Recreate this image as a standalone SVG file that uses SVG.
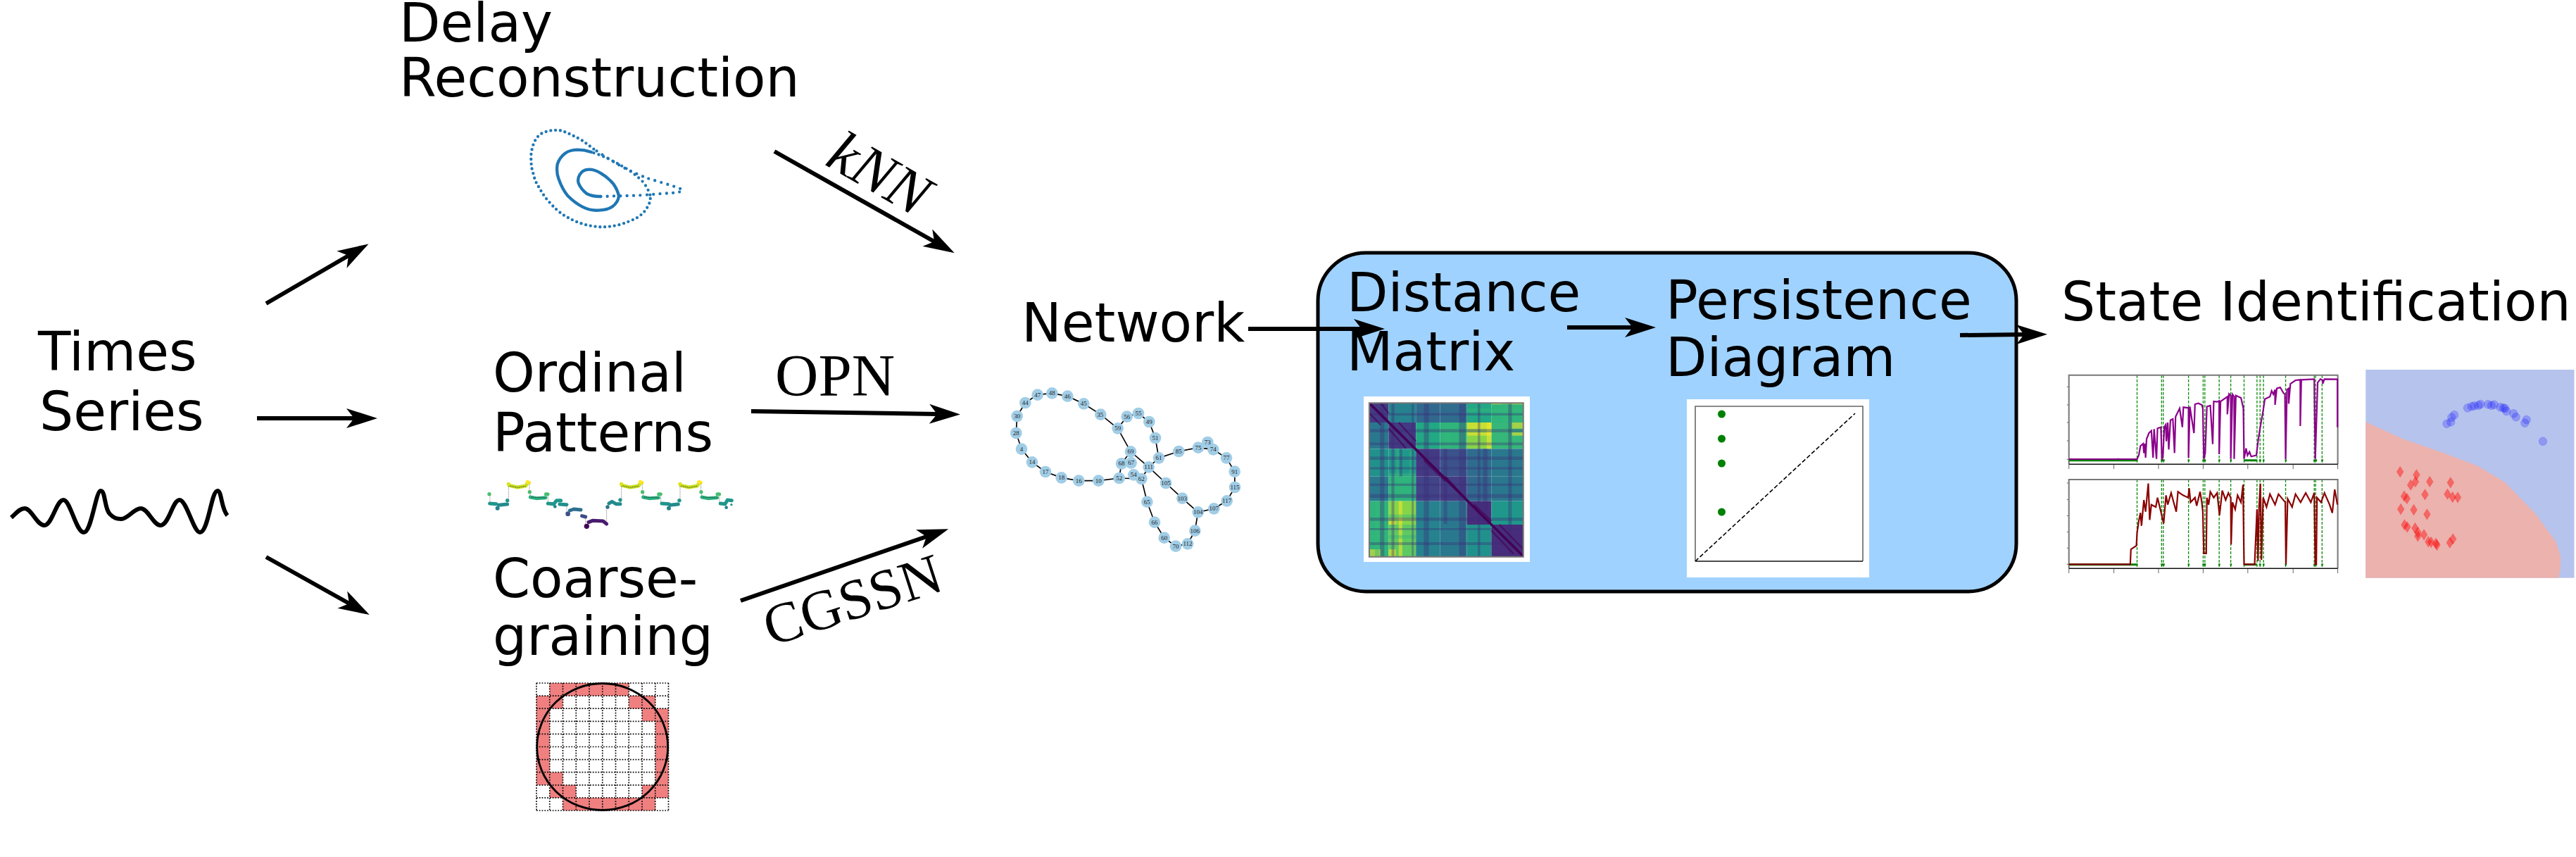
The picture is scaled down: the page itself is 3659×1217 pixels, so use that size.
<svg xmlns="http://www.w3.org/2000/svg" xmlns:xlink="http://www.w3.org/1999/xlink" width="3659" height="1217" viewBox="0 0 3659 1217">
<style>
.t{font-family:"DejaVu Sans",sans-serif;font-size:76px;fill:#000}
.m{font-family:"Liberation Serif",serif;font-size:85px;fill:#000}
.arrow{fill:none;stroke:#000;stroke-width:6;marker-end:url(#head)}
.ns{vector-effect:non-scaling-stroke}
.nl{font-family:"Liberation Serif",serif;font-size:27px;fill:#222;text-anchor:middle}
.nc{fill:#a1cde6}
.ne{stroke:#000;stroke-width:5;fill:none}
.op{fill:none;stroke-width:15;stroke-linecap:round;stroke-linejoin:round}
.at{fill:none;stroke:#1f77b4;stroke-width:13;stroke-linecap:round}
.vd{stroke:#0a8a0a;stroke-width:1.3;stroke-dasharray:4 2;fill:none;vector-effect:non-scaling-stroke}
.tk{stroke:#666;stroke-width:1;fill:none;vector-effect:non-scaling-stroke}
.ax{stroke:#111;stroke-width:1.5;fill:none;vector-effect:non-scaling-stroke}
.axg{stroke:#777;stroke-width:2;fill:none;vector-effect:non-scaling-stroke}
.gb{stroke:#008000;stroke-width:3;fill:none;vector-effect:non-scaling-stroke}
.bc{fill:#0000ff;fill-opacity:.22;stroke:#0000ff;stroke-opacity:.12;vector-effect:non-scaling-stroke}
.rd{fill:#ff0000;fill-opacity:.42;stroke:#ff0000;stroke-opacity:.2;vector-effect:non-scaling-stroke}
</style>
<defs>
<marker id="head" markerUnits="userSpaceOnUse" markerWidth="60" markerHeight="50" viewBox="-14 -25 60 50" refX="0" refY="0" orient="auto"><path d="M33,0 L-11,-14 L0,0 L-11,14 Z" fill="#000"/></marker>
<clipPath id="hm"><rect x="88" y="97" width="429" height="653"/></clipPath>
<g id="motif">
<path class="op" stroke="#c8e020" d="M130,88 L165,96 L200,90 L207,80"/>
<circle cx="127" cy="82" r="8" fill="#dde318"/><path class="op" stroke="#fde725" d="M207,73 L215,76"/>
<circle cx="217" cy="116" r="8" fill="#4ac16d"/>
<path class="op" stroke="#2ab07f" d="M220,138 L245,143 L285,140"/><path class="op" stroke="#45bf70" d="M286,125 L294,125"/>
<path d="M127,90 V150 M216,80 V112 M219,120 V134 M295,128 V160" stroke="#777" stroke-width="2.5" stroke-dasharray="4 3" fill="none"/>
<path d="M132,90 L165,97 L200,91 M224,138 L285,141" stroke="#333" stroke-width="2.5" stroke-dasharray="5 3" fill="none"/>
</g>
</defs>
<rect width="3659" height="1217" fill="#fff"/>

<g id="pipeline-box">
<rect x="1872" y="359" width="992" height="481" rx="68" ry="68" fill="#a0d2ff" stroke="#000" stroke-width="5"/>
</g>

<g id="times-series">
<text class="t" x="54" y="526">Times</text>
<text class="t" x="56" y="611">Series</text>
<path d="M16,735 C24,728 28,722 35,722 C45,722 52,746 63,746 C74,746 80,710 90,710 C100,710 108,756 119,756 C130,756 136,697 143,697 C150,697 148,722 156,730 C162,736 166,737 172,737 C182,737 190,722 200,722 C210,722 218,746 228,746 C240,746 245,710 255,710 C265,710 275,756 284,756 C296,756 300,697 309,697 C315,697 314,722 323,732" fill="none" stroke="#000" stroke-width="6"/>
</g>

<g id="delay-reconstruction">
<text class="t" x="567" y="59">Delay</text>
<text class="t" x="567" y="137">Reconstruction</text>
<g transform="translate(740 170) scale(.33333)">
<path class="at" stroke-dasharray="0 28" d="M340,327 L510,322 Q585,316 640,312 Q688,310 688,298 Q660,285 600,268 Q560,255 540,250 Q490,230 430,200 Q370,165 310,125"/>
<path class="at" stroke-dasharray="0 20.5" d="M310,125 Q285,105 260,88 Q215,62 175,47 Q130,38 85,60 Q50,85 43,150 Q42,200 50,220 Q60,265 75,285 Q100,330 120,350 Q150,385 180,405 Q220,430 260,443 Q300,455 340,457 Q380,457 420,447 Q460,435 490,420 Q525,400 540,370 Q555,345 550,320"/>
<path class="at" stroke-dasharray="0 22" d="M550,320 Q540,290 520,265 Q490,235 460,215 Q420,190 380,170 Q340,150 300,138"/>
<path class="at" d="M300,138 Q270,128 240,128 Q205,130 190,142 Q165,160 155,190 Q150,225 160,250 Q175,295 200,325 Q230,355 260,370 Q295,388 330,386 Q370,385 390,370 Q415,350 417,325 Q412,300 395,275 Q370,245 340,228 Q315,212 290,212 Q262,212 250,235 Q240,250 245,270 Q255,295 280,315 Q305,328 340,327"/>
</g>
</g>

<g id="ordinal-patterns">
<text class="t" x="700" y="556">Ordinal</text>
<text class="t" x="700" y="641">Patterns</text>
<g transform="translate(680 660) scale(.3333)">
<circle cx="45" cy="125" r="8" fill="#4ac16d"/>
<path class="op" stroke="#1f968b" d="M47,165 L75,167"/>
<path class="op" stroke="#238a8d" d="M85,172 L122,168"/><circle cx="80" cy="185" r="9" fill="#26828e"/>
<circle cx="122" cy="152" r="8" fill="#1f968b"/>
<path d="M48,130 V160" stroke="#777" stroke-width="2.5" stroke-dasharray="4 3"/>
<use xlink:href="#motif" href="#motif"/>
<path class="op" stroke="#1f968b" d="M295,165 L320,167 L332,152 L350,152"/><circle cx="325" cy="178" r="7" fill="#26828e"/>
<path class="op" stroke="#1f8f8c" d="M345,168 L375,170"/>
<circle cx="380" cy="209" r="10" fill="#3f4f8a"/>
<path class="op" stroke="#2c6f8e" d="M388,195 L405,189 L435,192"/>
<path class="op" stroke="#3e4a89" d="M440,218 L455,222"/>
<circle cx="460" cy="262" r="11" fill="#440154"/>
<path class="op" stroke="#481c6e" d="M468,245 L485,238 L530,240 L545,252"/>
<circle cx="549" cy="180" r="8" fill="#2c728e"/>
<path class="op" stroke="#238a8d" d="M555,165 L568,157 L585,167 L603,167"/>
<circle cx="603" cy="150" r="8" fill="#1f968b"/>
<path d="M545,185 V240 M455,226 V255 M375,172 V200" stroke="#777" stroke-width="2.5" stroke-dasharray="4 3" fill="none"/>
<use xlink:href="#motif" href="#motif" x="481"/>
<path class="op" stroke="#1f968b" d="M780,165 L810,167"/><path class="op" stroke="#238a8d" d="M815,172 L850,168"/><circle cx="810" cy="185" r="9" fill="#26828e"/><circle cx="855" cy="152" r="8" fill="#1f968b"/>
<use xlink:href="#motif" href="#motif" x="731"/>
<path class="op" stroke="#1f968b" d="M1030,165 L1050,167 L1060,150 L1078,152"/><circle cx="1055" cy="182" r="7" fill="#26828e"/><circle cx="1077" cy="170" r="5" fill="#1f968b"/>
</g>
</g>

<g id="coarse-graining">
<text class="t" x="700" y="848">Coarse-</text>
<text class="t" x="700" y="930">graining</text>
<g transform="translate(762 970)">
<path fill="#f08080" d="M18.7,0H131.3V18.1H168.8V36.2H187.5V162.9H168.8V181H37.5V162.9H18.8V144.8H0V18.1H18.7Z"/>
<path fill="#fff" d="M37.5,18.1H131.3V36.2H150V54.3H168.8V144.8H150V162.9H56.3V144.8H37.5V126.7H18.8V36.2H37.5Z"/>
<path d="M0,0H187.5M0,18.1H187.5M0,36.2H187.5M0,54.3H187.5M0,72.4H187.5M0,90.5H187.5M0,108.6H187.5M0,126.7H187.5M0,144.8H187.5M0,162.9H187.5M0,181H187.5M0,0V181M18.75,0V181M37.5,0V181M56.25,0V181M75,0V181M93.75,0V181M112.5,0V181M131.25,0V181M150,0V181M168.75,0V181M187.5,0V181" fill="none" stroke="#000" stroke-width="1.7" stroke-dasharray="1.7 2.1"/>
<ellipse cx="93.7" cy="90.5" rx="93" ry="90" fill="none" stroke="#000" stroke-width="2.8"/>
</g>
</g>

<g id="network">
<text class="t" x="1451" y="485">Network</text>
<g transform="translate(1400 520) scale(.33333)">
<path class="ne" d="M169,156L221,122L283,115L349,128L418,160L490,206L563,265L602,215L651,201L697,237L723,306L738,391L823,363L906,347L970,355L1026,391L1061,449L1062,516L1028,574L973,607L905,622L892,701L861,757L810,767L761,731L720,665L688,578L664,480L695,430L738,391M664,480L569,477L481,488L397,488L323,475L255,450L198,409L153,353L130,285L134,213L169,156M563,265L618,364L695,430L768,498L838,563L905,622M618,364L579,415L569,477"/>
<g id="net-nodes">
<circle class="nc" cx="221" cy="122" r="25"/><circle class="nc" cx="283" cy="115" r="25"/><circle class="nc" cx="349" cy="128" r="25"/><circle class="nc" cx="418" cy="160" r="25"/><circle class="nc" cx="490" cy="206" r="25"/><circle class="nc" cx="563" cy="265" r="25"/><circle class="nc" cx="602" cy="215" r="25"/><circle class="nc" cx="651" cy="201" r="25"/><circle class="nc" cx="697" cy="237" r="25"/><circle class="nc" cx="723" cy="306" r="25"/><circle class="nc" cx="738" cy="391" r="25"/><circle class="nc" cx="823" cy="363" r="25"/><circle class="nc" cx="906" cy="347" r="25"/><circle class="nc" cx="946" cy="324" r="25"/><circle class="nc" cx="970" cy="355" r="25"/><circle class="nc" cx="1026" cy="391" r="25"/><circle class="nc" cx="1061" cy="449" r="25"/><circle class="nc" cx="1062" cy="516" r="25"/><circle class="nc" cx="1028" cy="574" r="25"/><circle class="nc" cx="973" cy="607" r="25"/><circle class="nc" cx="905" cy="622" r="25"/><circle class="nc" cx="892" cy="701" r="25"/><circle class="nc" cx="861" cy="757" r="25"/><circle class="nc" cx="810" cy="767" r="25"/><circle class="nc" cx="761" cy="731" r="25"/><circle class="nc" cx="720" cy="665" r="25"/><circle class="nc" cx="688" cy="578" r="25"/><circle class="nc" cx="664" cy="480" r="25"/><circle class="nc" cx="631" cy="463" r="25"/><circle class="nc" cx="569" cy="477" r="25"/><circle class="nc" cx="481" cy="488" r="25"/><circle class="nc" cx="397" cy="488" r="25"/><circle class="nc" cx="323" cy="475" r="25"/><circle class="nc" cx="255" cy="450" r="25"/><circle class="nc" cx="198" cy="409" r="25"/><circle class="nc" cx="153" cy="353" r="25"/><circle class="nc" cx="130" cy="285" r="25"/><circle class="nc" cx="134" cy="213" r="25"/><circle class="nc" cx="169" cy="156" r="25"/><circle class="nc" cx="618" cy="364" r="25"/><circle class="nc" cx="620" cy="412" r="25"/><circle class="nc" cx="579" cy="415" r="25"/><circle class="nc" cx="695" cy="430" r="25"/><circle class="nc" cx="768" cy="498" r="25"/><circle class="nc" cx="838" cy="563" r="25"/>
</g>
<g id="net-labels">
<text class="nl" x="221" y="131">47</text><text class="nl" x="283" y="124">48</text><text class="nl" x="349" y="137">46</text><text class="nl" x="418" y="169">45</text><text class="nl" x="488" y="215">35</text><text class="nl" x="563" y="274">59</text><text class="nl" x="602" y="224">56</text><text class="nl" x="651" y="210">55</text><text class="nl" x="697" y="246">49</text><text class="nl" x="723" y="315">51</text><text class="nl" x="738" y="400">61</text><text class="nl" x="823" y="372">85</text><text class="nl" x="906" y="356">75</text><text class="nl" x="946" y="333">73</text><text class="nl" x="970" y="364">74</text><text class="nl" x="1026" y="400">77</text><text class="nl" x="1061" y="458">91</text><text class="nl" x="1062" y="525">115</text><text class="nl" x="1028" y="583">117</text><text class="nl" x="973" y="616">107</text><text class="nl" x="905" y="631">104</text><text class="nl" x="892" y="710">106</text><text class="nl" x="861" y="766">112</text><text class="nl" x="810" y="776">70</text><text class="nl" x="761" y="740">60</text><text class="nl" x="720" y="674">66</text><text class="nl" x="688" y="587">65</text><text class="nl" x="664" y="489">62</text><text class="nl" x="631" y="472">54</text><text class="nl" x="569" y="486">52</text><text class="nl" x="481" y="497">10</text><text class="nl" x="397" y="497">16</text><text class="nl" x="323" y="484">18</text><text class="nl" x="255" y="459">17</text><text class="nl" x="198" y="418">14</text><text class="nl" x="153" y="362">4</text><text class="nl" x="130" y="294">28</text><text class="nl" x="134" y="222">30</text><text class="nl" x="169" y="165">44</text><text class="nl" x="618" y="373">69</text><text class="nl" x="620" y="421">67</text><text class="nl" x="579" y="424">68</text><text class="nl" x="695" y="439">111</text><text class="nl" x="768" y="507">105</text><text class="nl" x="838" y="572">103</text>
</g>
</g>
</g>

<g id="distance-matrix">
<text class="t" x="1913" y="442">Distance</text>
<text class="t" x="1913" y="526">Matrix</text>
<rect x="1937" y="563" width="236" height="235" fill="#fff"/>
<g transform="translate(1900 540) scale(.5102 .33333)">
<g clip-path="url(#hm)">
<rect x="88" y="97" width="54" height="83" fill="#433a83"/><rect x="142" y="97" width="76" height="83" fill="#26828e"/><rect x="218" y="97" width="67" height="83" fill="#31688e"/><rect x="285" y="97" width="75" height="83" fill="#2f6c8e"/><rect x="360" y="97" width="68" height="83" fill="#22a884"/><rect x="428" y="97" width="89" height="83" fill="#2fb47c"/>
<rect x="88" y="180" width="54" height="112" fill="#2a788e"/><rect x="142" y="180" width="76" height="112" fill="#433a83"/><rect x="218" y="180" width="67" height="112" fill="#22a884"/><rect x="285" y="180" width="75" height="112" fill="#2fb47c"/><rect x="360" y="180" width="68" height="112" fill="#86d549"/><rect x="428" y="180" width="89" height="112" fill="#35b779"/>
<rect x="88" y="292" width="54" height="118" fill="#21918c"/><rect x="142" y="292" width="76" height="118" fill="#1f988b"/><rect x="218" y="292" width="67" height="118" fill="#443983"/><rect x="285" y="292" width="75" height="118" fill="#3b528b"/><rect x="360" y="292" width="68" height="118" fill="#2f6c8e"/><rect x="428" y="292" width="89" height="118" fill="#2a788e"/>
<rect x="88" y="410" width="54" height="105" fill="#2a788e"/><rect x="142" y="410" width="76" height="105" fill="#2fb47c"/><rect x="218" y="410" width="67" height="105" fill="#414487"/><rect x="285" y="410" width="75" height="105" fill="#433e85"/><rect x="360" y="410" width="68" height="105" fill="#31688e"/><rect x="428" y="410" width="89" height="105" fill="#2a788e"/>
<rect x="88" y="515" width="54" height="100" fill="#2fb47c"/><rect x="142" y="515" width="76" height="100" fill="#86d549"/><rect x="218" y="515" width="67" height="100" fill="#26828e"/><rect x="285" y="515" width="75" height="100" fill="#2a788e"/><rect x="360" y="515" width="68" height="100" fill="#472d7b"/><rect x="428" y="515" width="89" height="100" fill="#1f988b"/>
<rect x="88" y="615" width="54" height="135" fill="#2fb47c"/><rect x="142" y="615" width="76" height="135" fill="#5ec962"/><rect x="218" y="615" width="67" height="135" fill="#26828e"/><rect x="285" y="615" width="75" height="135" fill="#2a788e"/><rect x="360" y="615" width="68" height="135" fill="#21918c"/><rect x="428" y="615" width="89" height="135" fill="#472d7b"/>
<g fill="#fde725" fill-opacity=".55">
<rect x="170" y="515" width="10" height="235"/><rect x="142" y="720" width="20" height="30"/><rect x="142" y="600" width="20" height="15"/>
<rect x="360" y="180" width="68" height="28"/><rect x="360" y="222" width="68" height="14"/><rect x="415" y="180" width="13" height="112"/><rect x="485" y="180" width="32" height="26"/><rect x="485" y="222" width="32" height="14"/>
<rect x="90" y="720" width="30" height="30"/><rect x="428" y="97" width="89" height="6"/>
</g>
<g fill="#35b779" fill-opacity=".45">
<rect x="142" y="572" width="76" height="14"/><rect x="458" y="97" width="18" height="83"/><rect x="298" y="222" width="16" height="70"/><rect x="142" y="396" width="76" height="14"/><rect x="162" y="292" width="10" height="120"/><rect x="104" y="515" width="12" height="235"/><rect x="360" y="120" width="157" height="14"/><rect x="200" y="300" width="8" height="110"/><rect x="88" y="640" width="54" height="12"/><rect x="88" y="660" width="130" height="14"/>
</g>
<g fill="#3b2a78" fill-opacity=".35">
<rect x="88" y="208" width="429" height="14"/><rect x="88" y="325" width="429" height="14"/><rect x="88" y="370" width="429" height="10"/><rect x="88" y="485" width="429" height="16"/><rect x="88" y="585" width="429" height="14"/><rect x="88" y="690" width="429" height="12"/><rect x="88" y="140" width="429" height="10"/><rect x="88" y="265" width="429" height="12"/><rect x="88" y="440" width="429" height="10"/><rect x="88" y="630" width="429" height="8"/>
<rect x="118" y="97" width="12" height="653"/><rect x="172" y="292" width="8" height="118"/><rect x="240" y="97" width="14" height="653"/><rect x="338" y="97" width="18" height="653"/><rect x="405" y="292" width="12" height="323"/><rect x="475" y="97" width="10" height="653"/><rect x="206" y="97" width="6" height="653"/><rect x="295" y="292" width="10" height="320"/><rect x="390" y="97" width="7" height="653"/><rect x="150" y="97" width="8" height="653"/>
</g>
<path d="M88,97 L517,750" stroke="#440154" stroke-width="3.5" class="ns" fill="none"/>
<path d="M88,140 L120,190 M120,97 L142,140 M142,205 L190,290 M170,180 L218,260 M380,530 L428,600 M428,640 L490,740 M450,615 L517,720 M240,340 L300,430 M300,410 L360,510" stroke="#440154" stroke-width="2.5" class="ns" fill="none" stroke-opacity=".6"/>
</g>
<rect x="88" y="97" width="429" height="655" fill="none" class="axg"/>
</g>
</g>

<g id="persistence-diagram">
<text class="t" x="2366" y="453">Persistence</text>
<text class="t" x="2366" y="534">Diagram</text>
<rect x="2396" y="567" width="259" height="253" fill="#fff"/>
<path d="M2408,797 V577 H2646 V797" fill="none" stroke="#666" stroke-width="1.6"/>
<path d="M2408,797 H2646" fill="none" stroke="#111" stroke-width="1.6"/>
<path d="M2408,797 L2635,587" fill="none" stroke="#000" stroke-width="1.6" stroke-dasharray="6 3"/>
<g fill="#008000"><ellipse cx="2445.5" cy="588" rx="5.5" ry="5.5"/><ellipse cx="2445.5" cy="623" rx="5.5" ry="5.5"/><ellipse cx="2445.5" cy="658" rx="5.5" ry="5.5"/><ellipse cx="2445.5" cy="727" rx="5.5" ry="5.5"/></g>
</g>

<g id="state-identification">
<text class="t" x="2928" y="455">State Identification</text>
<g transform="translate(2900 500) scale(.484 .33333)">
<path class="vd" d="M280,98V478M352,98V478M357,98V478M431,98V478M474,98V478M479,98V478M521,98V478M555,98V478M594,98V478M632,98V478M641,98V478M651,98V478M716,98V478M800,98V478M804,98V478M823,98V478"/>
<path class="vd" d="M280,543V922M352,543V922M357,543V922M431,543V922M474,543V922M479,543V922M521,543V922M555,543V922M594,543V922M632,543V922M641,543V922M651,543V922M716,543V922M800,543V922M804,543V922M823,543V922"/>
<path class="tk" d="M80,478V498M212,478V498M343,478V498M474,478V498M605,478V498M738,478V498M869,478V498M80,148H74M80,225H74M80,300H74M80,378H74M80,457H74M80,922V942M212,922V942M343,922V942M474,922V942M605,922V942M738,922V942M869,922V942M80,558H74M80,628H74M80,697H74M80,766H74M80,835H74M80,904H74"/>
<path class="axg" d="M80,478V98H869V478M80,922V543H869V922"/>
<path class="ax" d="M80,478H869M80,922H869"/>
<path d="M80,461H282M80,905H282M593,461H632M593,905H632" stroke="#008000" stroke-width="3" fill="none" class="ns"/>
<path class="gb" d="M350,461H361M429,461H434M472,461H482M519,461H524M553,461H558M638,461H644M649,461H654M714,461H719M798,461H808M821,461H826M350,905H361M429,905H434M472,905H482M519,905H524M553,905H558M638,905H644M649,905H654M714,905H719M798,905H808M821,905H826"/>
<path fill="none" stroke="#8b008b" stroke-width="2.2" class="ns" d="M80,456H225V452V456H280L285,440L290,400L298,390L300,430L303,390L305,450L308,370L315,345L322,335L327,450L330,328L337,455L340,325L350,320L353,460L356,440L360,320L364,310L366,380L370,300L373,415L378,290L385,285L390,430L393,275L405,240L413,320L416,235L431,238V450L435,232L447,345L450,222L460,218L470,225L473,240L476,455L480,430L485,232L495,228L502,392L505,210L515,212L521,208V435L525,210L545,190V265L550,178L555,185V455L560,180L565,190V455L570,185L585,195L592,240L594,455L600,410L604,440L610,425L615,445L630,440L636,370L645,290L650,250L655,200L670,190L675,165L680,180L685,160V225L690,155L700,150L710,175L714,180L716,456L720,160L725,155V220L730,135L745,120L759,118V315L762,118L800,115L803,455L810,130L818,115L825,120V135L830,115L868,116V320"/>
<path fill="none" stroke="#8b0000" stroke-width="2.2" class="ns" d="M80,904H260L262,840L278,825L280,770L285,720L290,685L293,740L300,630L305,680L313,560L317,715L322,650L335,660L340,620L350,680L358,730L365,610L370,650L380,600L395,680L400,595L415,610L430,620L433,580L437,640L450,620L455,655L465,595L470,640L473,680L476,858L483,858L485,620L490,650L495,595L505,620L515,600L522,695L530,590L540,630L548,600L555,620L556,820L560,640L568,670L575,610L585,640L591,565L594,904L625,904L632,670L635,890L638,660L642,560L645,885L650,620L660,660L670,605L685,650L695,605L715,640L717,904L722,625L735,660L745,605L760,640L775,600L790,640L800,600L803,904L806,904L808,620L820,640L830,600L845,650L853,685L860,585L868,650"/>
<rect x="951" y="75" width="612" height="887" fill="#b6c3ed"/>
<path d="M951,298 L1060,370 L1180,430 L1280,485 L1360,555 L1450,690 L1510,810 L1523,870 L1522,930 L1517,962 H951 Z" fill="#ebb2ae"/>
<g id="blue-points">
<ellipse class="bc" cx="1189" cy="305" rx="12" ry="18"/><ellipse class="bc" cx="1201" cy="298" rx="12" ry="18"/><ellipse class="bc" cx="1203" cy="278" rx="12" ry="18"/><ellipse class="bc" cx="1211" cy="268" rx="12" ry="18"/><ellipse class="bc" cx="1250" cy="238" rx="12" ry="18"/><ellipse class="bc" cx="1262" cy="232" rx="12" ry="18"/><ellipse class="bc" cx="1270" cy="229" rx="12" ry="18"/><ellipse class="bc" cx="1282" cy="227" rx="12" ry="18"/><ellipse class="bc" cx="1288" cy="222" rx="12" ry="18"/><ellipse class="bc" cx="1310" cy="223" rx="12" ry="18"/><ellipse class="bc" cx="1320" cy="227" rx="12" ry="18"/><ellipse class="bc" cx="1328" cy="224" rx="12" ry="18"/><ellipse class="bc" cx="1346" cy="235" rx="12" ry="18"/><ellipse class="bc" cx="1355" cy="238" rx="12" ry="18"/><ellipse class="bc" cx="1360" cy="240" rx="12" ry="18"/><ellipse class="bc" cx="1364" cy="252" rx="12" ry="18"/><ellipse class="bc" cx="1385" cy="262" rx="12" ry="18"/><ellipse class="bc" cx="1392" cy="277" rx="12" ry="18"/><ellipse class="bc" cx="1423" cy="288" rx="12" ry="18"/><ellipse class="bc" cx="1418" cy="302" rx="12" ry="18"/><ellipse class="bc" cx="1471" cy="380" rx="12" ry="18"/>
</g>
<g id="red-points">
<path class="rd" d="M1052,487l10,23l-10,23l-10,-23z"/><path class="rd" d="M1100,500l10,23l-10,23l-10,-23z"/><path class="rd" d="M1097,529l10,23l-10,23l-10,-23z"/><path class="rd" d="M1083,543l10,23l-10,23l-10,-23z"/><path class="rd" d="M1139,529l10,23l-10,23l-10,-23z"/><path class="rd" d="M1200,533l10,23l-10,23l-10,-23z"/><path class="rd" d="M1064,591l10,23l-10,23l-10,-23z"/><path class="rd" d="M1072,601l10,23l-10,23l-10,-23z"/><path class="rd" d="M1125,584l10,23l-10,23l-10,-23z"/><path class="rd" d="M1191,582l10,23l-10,23l-10,-23z"/><path class="rd" d="M1206,595l10,23l-10,23l-10,-23z"/><path class="rd" d="M1221,596l10,23l-10,23l-10,-23z"/><path class="rd" d="M1054,646l10,23l-10,23l-10,-23z"/><path class="rd" d="M1092,649l10,23l-10,23l-10,-23z"/><path class="rd" d="M1131,668l10,23l-10,23l-10,-23z"/><path class="rd" d="M1065,713l10,23l-10,23l-10,-23z"/><path class="rd" d="M1073,722l10,23l-10,23l-10,-23z"/><path class="rd" d="M1096,727l10,23l-10,23l-10,-23z"/><path class="rd" d="M1104,745l10,23l-10,23l-10,-23z"/><path class="rd" d="M1104,761l10,23l-10,23l-10,-23z"/><path class="rd" d="M1122,755l10,23l-10,23l-10,-23z"/><path class="rd" d="M1135,785l10,23l-10,23l-10,-23z"/><path class="rd" d="M1143,787l10,23l-10,23l-10,-23z"/><path class="rd" d="M1157,792l10,23l-10,23l-10,-23z"/><path class="rd" d="M1160,799l10,23l-10,23l-10,-23z"/><path class="rd" d="M1198,789l10,23l-10,23l-10,-23z"/><path class="rd" d="M1207,773l10,23l-10,23l-10,-23z"/>
</g>
</g>
</g>

<g id="connectors">
<polyline class="arrow" points="378,431 495,363"/>
<polyline class="arrow" points="365,594 503,594"/>
<polyline class="arrow" points="378,791 496,857"/>
<polyline class="arrow" points="1100,215 1327,343"/>
<polyline class="arrow" points="1067,584 1331,588"/>
<polyline class="arrow" points="1052,853 1316,762"/>
<polyline class="arrow" points="1773,467 1934,467"/>
<polyline class="arrow" points="2226,465 2319,465"/>
<polyline class="arrow" points="2784,476 2875,475"/>
<text class="m" font-style="italic" transform="translate(1170,233) rotate(30)">kNN</text>
<text class="m" x="1101" y="562">OPN</text>
<text class="m" style="font-size:81px" transform="translate(1095,918) rotate(-18)">CGSSN</text>
</g>
</svg>
